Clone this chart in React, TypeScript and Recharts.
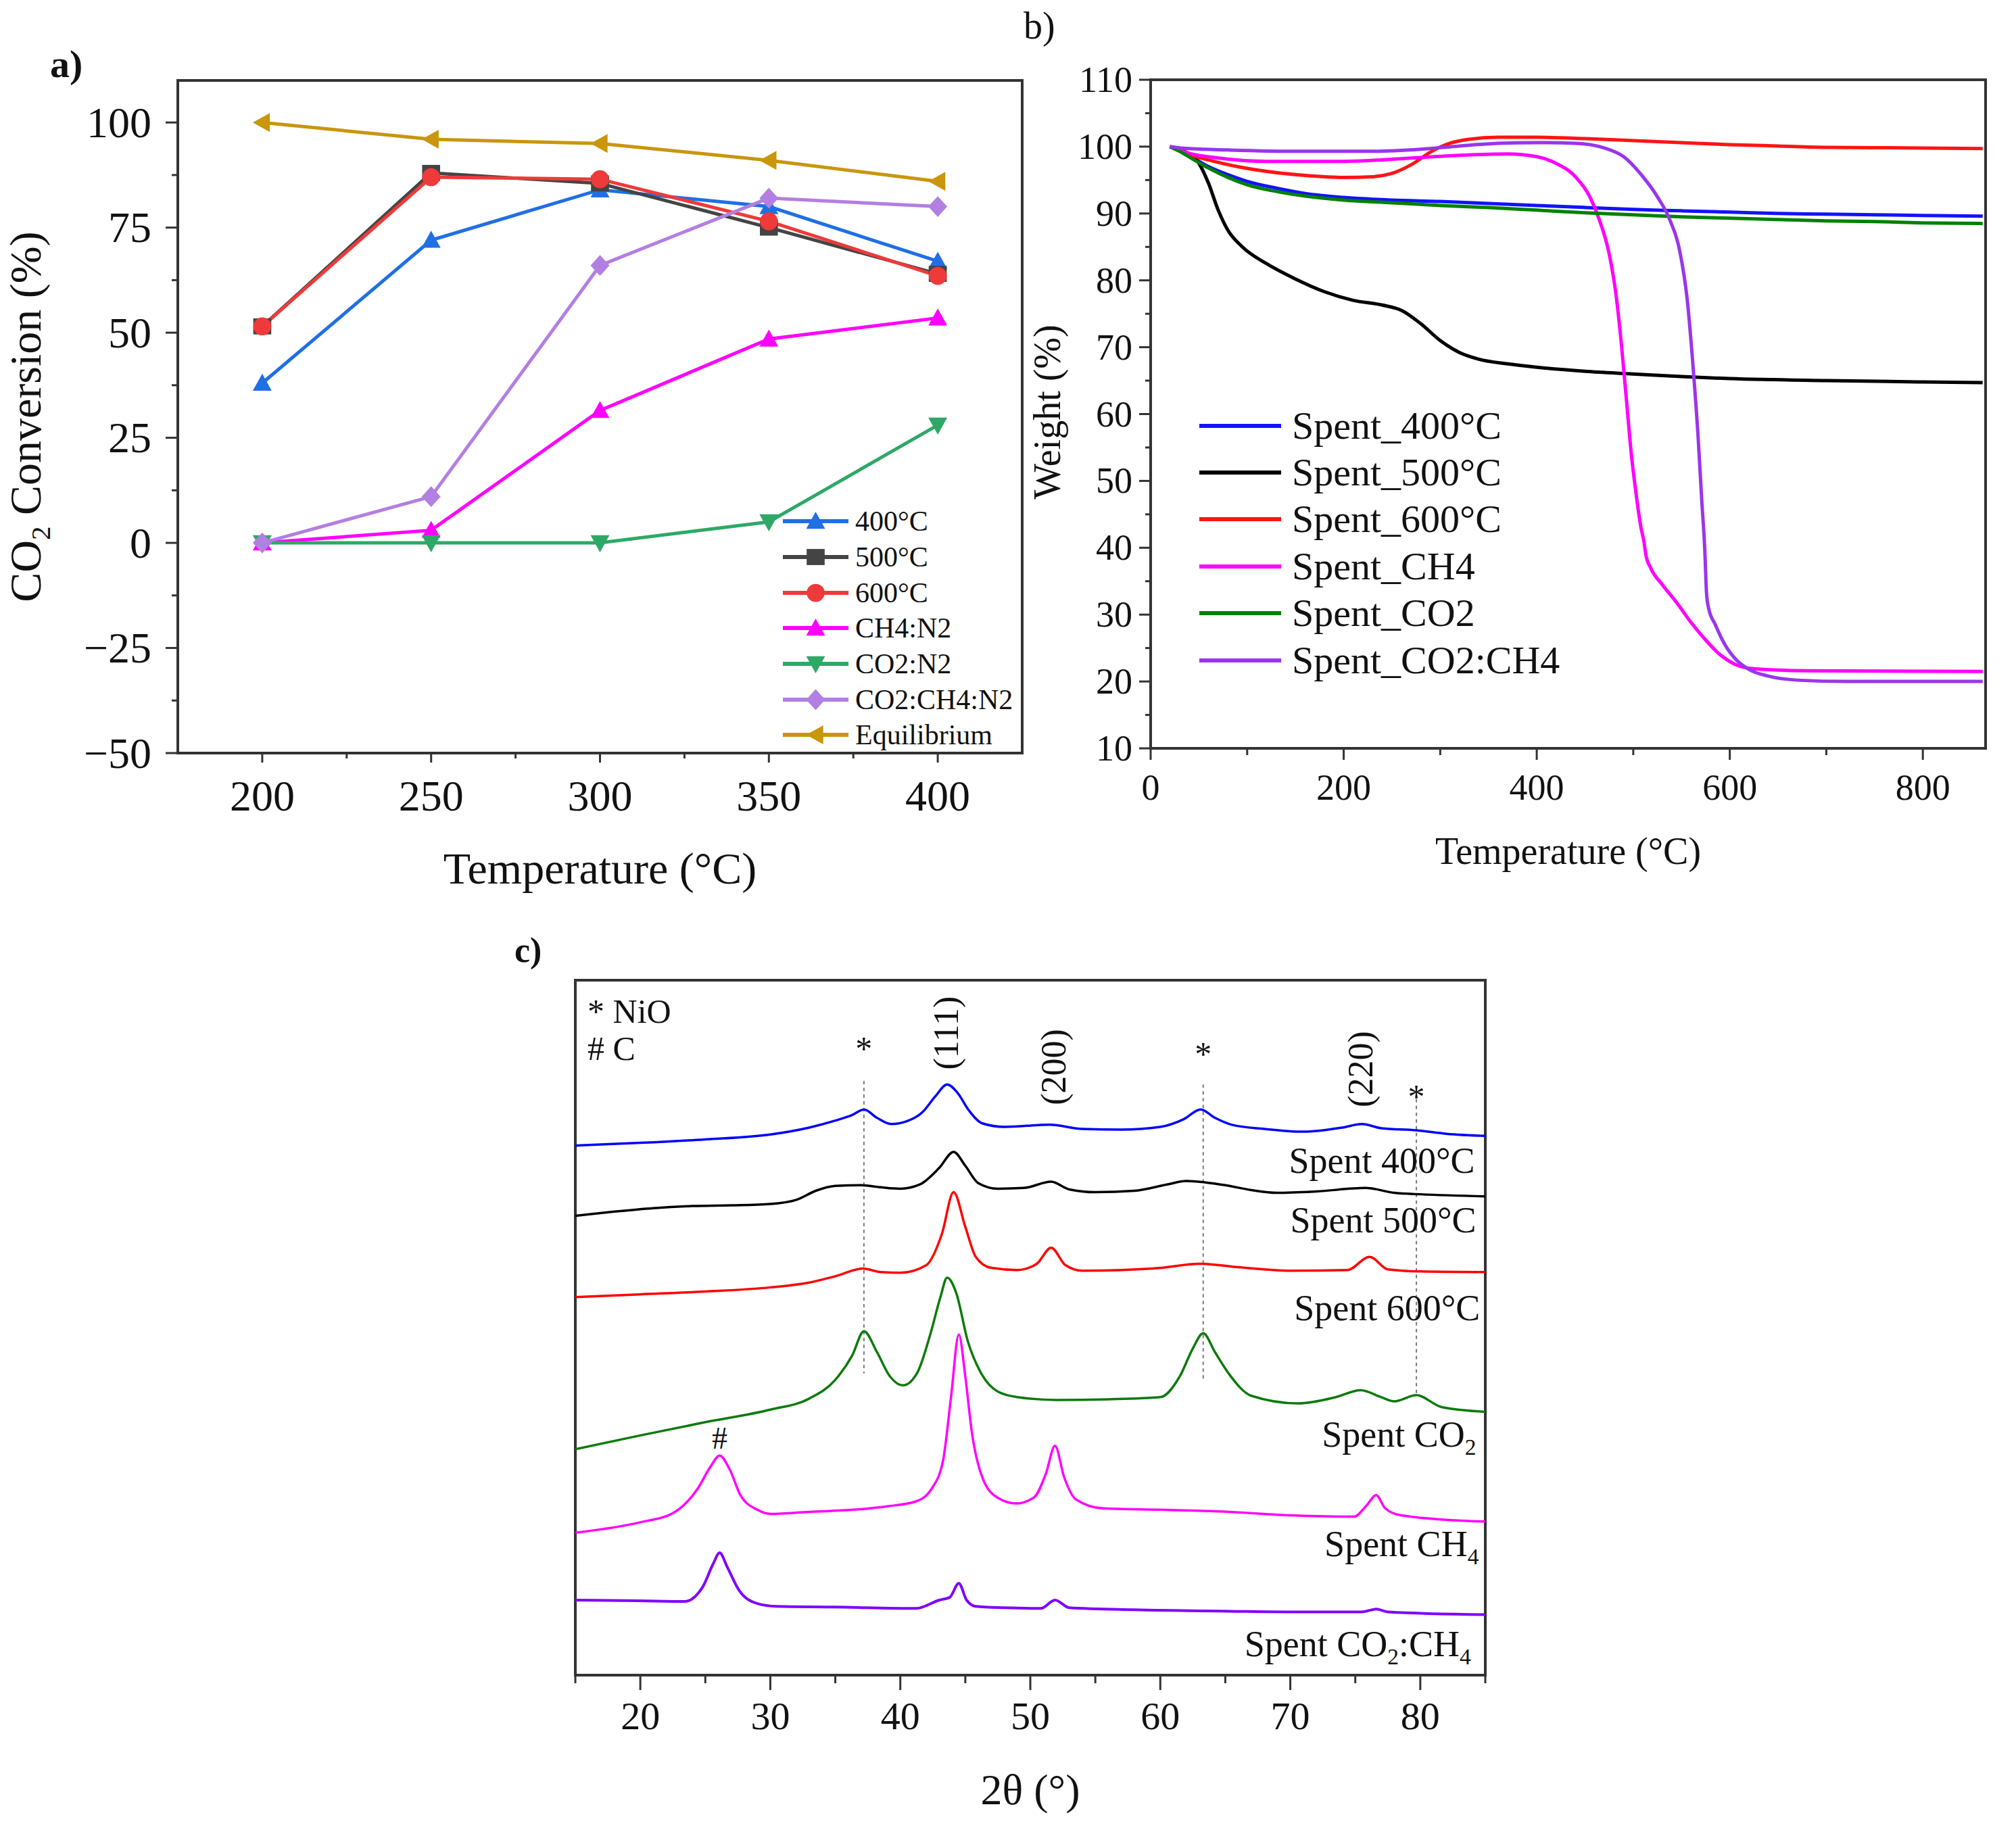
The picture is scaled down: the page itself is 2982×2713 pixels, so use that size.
import React from 'react';
import { LineChart, Line, XAxis, YAxis, ReferenceArea, ReferenceLine, ReferenceDot, Legend, Label } from 'recharts';

const SERIF = '"Liberation Serif", "Times New Roman", serif';
const AXIS = '#333333';
const INK = '#111111';

// ---------- a) CO2 conversion vs temperature ----------
const temps = [200, 250, 300, 350, 400];
const conv400 = [38, 72, 84, 80, 67];
const conv500 = [51.5, 88, 85.5, 75, 64];
const conv600 = [51.5, 87, 86.5, 76.5, 63.5];
const convCH4N2 = [0, 3, 31.5, 48.5, 53.5];
const convCO2N2 = [0, 0, 0, 5, 28];
const convMix = [0, 11, 66, 82, 80];
const convEquil = [100, 96, 95, 91, 86];
const aTicksX = [200, 225, 250, 275, 300, 325, 350, 375, 400];
const aMajorX = [200, 250, 300, 350, 400];
const aTicksY = [-50, -37.5, -25, -12.5, 0, 12.5, 25, 37.5, 50, 62.5, 75, 87.5, 100];
const aMajorY = [-50, -25, 0, 25, 50, 75, 100];

// ---------- b) TGA ----------
const tga400 = [[20, 100], [30, 99.4], [45, 98.2], [60, 97], [80, 95.8], [100, 94.8], [130, 93.8], [160, 93], [200, 92.4], [250, 92], [300, 91.8], [350, 91.5], [400, 91.2], [450, 90.9], [500, 90.6], [550, 90.4], [600, 90.2], [650, 90], [700, 89.9], [750, 89.8], [800, 89.7], [862, 89.6]];
const tga500 = [[20, 100], [35, 99.3], [50, 97.5], [60, 94.5], [70, 90.5], [80, 87.5], [95, 85], [120, 82.5], [150, 80.2], [180, 78.3], [210, 77], [240, 76.3], [260, 75.5], [280, 73.5], [300, 71], [320, 69.2], [340, 68.2], [370, 67.5], [400, 67], [450, 66.4], [500, 66], [550, 65.6], [600, 65.3], [700, 65], [800, 64.8], [862, 64.7]];
const tga600 = [[20, 100], [40, 98.8], [60, 98], [90, 97], [120, 96.3], [160, 95.7], [200, 95.4], [230, 95.5], [250, 96], [270, 97.3], [290, 99.2], [310, 100.5], [330, 101.1], [360, 101.4], [400, 101.4], [450, 101.2], [500, 100.9], [550, 100.6], [600, 100.3], [650, 100.1], [700, 99.9], [800, 99.8], [862, 99.7]];
const tgaCH4 = [[20, 100], [40, 99], [70, 98.3], [120, 97.8], [200, 97.8], [260, 98.2], [320, 98.7], [370, 98.9], [400, 98.5], [420, 97.5], [440, 95.5], [455, 92.5], [465, 89], [475, 84], [482, 78], [488, 70], [493, 62], [498, 54], [503, 48], [508, 43], [511, 41], [513, 39], [518, 37], [530, 34.5], [545, 31.8], [560, 28.8], [575, 26.2], [590, 24], [605, 22.6], [625, 21.9], [680, 21.6], [862, 21.5]];
const tgaCO2 = [[20, 100], [30, 99.3], [45, 98], [60, 96.8], [80, 95.4], [100, 94.3], [130, 93.3], [160, 92.6], [200, 92], [250, 91.6], [300, 91.2], [350, 90.9], [400, 90.5], [450, 90.1], [500, 89.8], [550, 89.5], [600, 89.3], [650, 89.1], [700, 88.9], [750, 88.8], [800, 88.6], [862, 88.5]];
const tgaMix = [[20, 100], [40, 99.7], [80, 99.5], [150, 99.3], [230, 99.3], [280, 99.6], [320, 100.1], [360, 100.5], [400, 100.6], [440, 100.5], [470, 99.8], [490, 98.5], [510, 95.5], [525, 92.5], [538, 89], [548, 84.5], [556, 77], [562, 67], [567, 57], [571, 47], [574, 40], [576, 33], [578, 31], [585, 28.5], [595, 25.5], [607, 23.2], [620, 21.8], [640, 20.8], [670, 20.2], [720, 20], [862, 20]];
const bTicksX = [0, 100, 200, 300, 400, 500, 600, 700, 800];
const bMajorX = [0, 200, 400, 600, 800];
const bTicksY = [10, 15, 20, 25, 30, 35, 40, 45, 50, 55, 60, 65, 70, 75, 80, 85, 90, 95, 100, 105, 110];
const bMajorY = [10, 20, 30, 40, 50, 60, 70, 80, 90, 100, 110];

// ---------- c) XRD (offset patterns) ----------
const xrd400 = [[15, 76.2], [20, 76.6], [25, 77.1], [30, 77.8], [33, 78.8], [35, 79.8], [36.3, 80.6], [37.2, 81.4], [38.2, 80.2], [39.3, 79.3], [40.5, 79.7], [41.7, 81], [42.7, 83.3], [43.6, 85], [44.4, 83.8], [45.3, 81.2], [46.3, 79.4], [48, 78.9], [51.5, 79.2], [54, 78.6], [57, 78.5], [60, 78.9], [61.8, 80], [63.1, 81.4], [64.2, 80.2], [65.5, 79.2], [68, 78.6], [71, 78.2], [74, 78.8], [75.5, 79.3], [77, 78.7], [79.7, 78.4], [82, 77.9], [85, 77.6]];
const xrd500 = [[15, 66.1], [18, 66.7], [21, 67.2], [24, 67.5], [27, 67.6], [30, 67.8], [32, 68.4], [33.5, 69.7], [35, 70.4], [37, 70.5], [38.5, 70.2], [40, 70], [41.5, 70.6], [43, 73], [44.1, 75.3], [45, 73.3], [46, 70.8], [47.5, 70], [49.5, 70.1], [51.6, 71], [53, 69.9], [55, 69.5], [58, 69.7], [60.5, 70.6], [62, 71.1], [63.5, 70.9], [65, 70.5], [67, 69.8], [69, 69.4], [72, 69.6], [75.8, 70.1], [78, 69.4], [80, 69.2], [85, 68.9]];
const xrd600 = [[15, 54.4], [20, 54.8], [25, 55.2], [30, 55.8], [33, 56.5], [35, 57.4], [37.1, 58.5], [38.5, 58], [40, 57.9], [42, 59], [43.2, 63.5], [44.1, 69.5], [45, 64.5], [45.8, 60.2], [47, 58.6], [49, 58.3], [50.5, 59.2], [51.6, 61.5], [52.7, 59], [54, 58.2], [57, 58.3], [60, 58.6], [63, 59.2], [66, 58.7], [70, 58.2], [74.4, 58.3], [76.1, 60.2], [77.5, 58.4], [80, 58.1], [85, 58]];
const xrdCO2 = [[15, 32.5], [20, 34.5], [25, 36.4], [30, 38.2], [33, 39.8], [35, 42.5], [36.3, 46], [37.2, 49.5], [38.2, 46.5], [39.2, 43], [40.2, 41.7], [41.3, 43.5], [42.3, 49], [43.1, 54.5], [43.6, 57.2], [44.3, 55], [45.2, 48], [46.2, 43.5], [47.5, 40.8], [49, 40], [52, 39.6], [56, 39.7], [60, 40], [61.5, 43], [62.5, 47], [63.3, 49.2], [64.2, 46.5], [65.3, 43.3], [67, 40.2], [70.6, 39.1], [73.5, 40], [75.4, 41], [77, 40], [78, 39.4], [79.7, 40.3], [81.6, 38.6], [85, 37.9]];
const xrdCH4 = [[15, 20.5], [20, 22], [22.5, 23.3], [24.4, 26.8], [25.4, 30], [26.1, 31.6], [26.9, 29.5], [27.7, 25.9], [29, 23.8], [30, 23.2], [33, 23.5], [36.4, 23.8], [39, 24.3], [41.2, 25], [42.4, 26.8], [43.3, 31], [43.9, 40], [44.5, 49], [45, 43], [45.5, 35], [46.3, 28.5], [47.5, 25.5], [48.9, 24.7], [50.3, 25.6], [51.2, 29], [51.9, 33], [52.6, 28.5], [53.5, 25.3], [55.6, 24], [60, 23.8], [65.3, 23.5], [70, 23], [74.9, 22.8], [75.9, 24.5], [76.6, 25.9], [77.3, 24], [78.5, 23], [85, 22.1]];
const xrdMix = [[15, 10.8], [20, 10.7], [23.4, 10.6], [24.8, 12.7], [25.6, 16], [26.1, 17.6], [26.7, 15.5], [27.6, 12.2], [29, 10.3], [30.5, 9.9], [35, 9.8], [41.2, 9.6], [43, 10.8], [43.8, 11.2], [44.5, 13.2], [45.1, 10.8], [45.8, 9.9], [48, 9.7], [50.8, 9.6], [51.9, 10.8], [53, 9.7], [58, 9.4], [65.3, 9.2], [70, 9.1], [75.5, 9.1], [76.6, 9.5], [77.5, 9.1], [85, 8.7]];
const cTicksX = [15, 20, 25, 30, 35, 40, 45, 50, 55, 60, 65, 70, 75, 80, 85];
const cMajorX = [20, 30, 40, 50, 60, 70, 80];
const nioGuides = [[37.2, 85.5, 43.4], [63.3, 85, 42.4], [79.7, 82.9, 40.3]];

const toPts = (arr: number[][]) => arr.map(([x, y]) => ({ x, y }));

const convSeries = [
  { key: 's400', name: '400°C', color: '#1f6fe5', shape: 'up', values: conv400 },
  { key: 's500', name: '500°C', color: '#444444', shape: 'square', values: conv500 },
  { key: 's600', name: '600°C', color: '#ee3a3a', shape: 'circle', values: conv600 },
  { key: 'ch4', name: 'CH4:N2', color: '#ff00ff', shape: 'up', values: convCH4N2 },
  { key: 'co2', name: 'CO2:N2', color: '#2ea866', shape: 'down', values: convCO2N2 },
  { key: 'mix', name: 'CO2:CH4:N2', color: '#b27fe2', shape: 'diamond', values: convMix },
  { key: 'eq', name: 'Equilibrium', color: '#c9960c', shape: 'left', values: convEquil },
];
const convData = temps.map((t, i) => {
  const row: any = { T: t };
  convSeries.forEach((s) => { row[s.key] = s.values[i]; });
  return row;
});

const tgaSeries = [
  { name: 'Spent_400°C', color: '#1212ff', pts: tga400 },
  { name: 'Spent_500°C', color: '#000000', pts: tga500 },
  { name: 'Spent_600°C', color: '#ff1414', pts: tga600 },
  { name: 'Spent_CH4', color: '#ff00ff', pts: tgaCH4 },
  { name: 'Spent_CO2', color: '#008000', pts: tgaCO2 },
  { name: 'Spent_CO2:CH4', color: '#9a35ec', pts: tgaMix },
];

const xrdSeries = [
  { name: 'Spent 400°C', color: '#0000ff', pts: xrd400, w: 3.5 },
  { name: 'Spent 500°C', color: '#000000', pts: xrd500, w: 3.5 },
  { name: 'Spent 600°C', color: '#ff0000', pts: xrd600, w: 3.5 },
  { name: 'Spent CO2', color: '#0d7a0d', pts: xrdCO2, w: 3.5 },
  { name: 'Spent CH4', color: '#ff00ff', pts: xrdCH4, w: 3.5 },
  { name: 'Spent CO2:CH4', color: '#7f00ff', pts: xrdMix, w: 4 },
];

const Marker = ({ cx, cy, shape, color, s = 14 }: any) => {
  if (cx == null || cy == null) return null;
  switch (shape) {
    case 'up':
      return <polygon points={`${cx},${cy - s} ${cx - s},${cy + s * 0.8} ${cx + s},${cy + s * 0.8}`} fill={color} />;
    case 'down':
      return <polygon points={`${cx},${cy + s} ${cx - s},${cy - s * 0.8} ${cx + s},${cy - s * 0.8}`} fill={color} />;
    case 'left':
      return <polygon points={`${cx - s},${cy} ${cx + s * 0.8},${cy - s} ${cx + s * 0.8},${cy + s}`} fill={color} />;
    case 'diamond':
      return <polygon points={`${cx},${cy - s * 1.1} ${cx + s},${cy} ${cx},${cy + s * 1.1} ${cx - s},${cy}`} fill={color} />;
    case 'square':
      return <rect x={cx - s * 0.95} y={cy - s * 0.85} width={s * 1.9} height={s * 1.7} fill={color} />;
    default:
      return <circle cx={cx} cy={cy} r={s * 0.95} fill={color} />;
  }
};

// ticks with major / minor marks
const AxisTick = (props: any) => {
  const { x, y, payload, orient, majors, len, minorLen, fs, gap } = props;
  const v = payload.value;
  const major = majors.includes(v);
  const l = major ? len : minorLen;
  const label = String(v).replace('-', '\u2212');
  if (orient === 'left') {
    return (
      <g>
        <line x1={x} x2={x - l} y1={y} y2={y} stroke={AXIS} strokeWidth={3} />
        {major && (
          <text x={x - gap} y={y} textAnchor="end" dominantBaseline="central" fontSize={fs} fontFamily={SERIF} fill={INK}>
            {label}
          </text>
        )}
      </g>
    );
  }
  return (
    <g>
      <line x1={x} x2={x} y1={y} y2={y + l} stroke={AXIS} strokeWidth={3} />
      {major && (
        <text x={x} y={y + gap} textAnchor="middle" fontSize={fs} fontFamily={SERIF} fill={INK}>
          {label}
        </text>
      )}
    </g>
  );
};

const ConvLegend = () => (
  <div style={{ fontFamily: SERIF, fontSize: 42, color: INK }}>
    {convSeries.map((s) => (
      <div key={s.key} style={{ display: 'flex', alignItems: 'center', height: 52.7 }}>
        <svg width={97} height={36}>
          <line x1={0} x2={97} y1={18} y2={18} stroke={s.color} strokeWidth={6} />
          <Marker cx={48.5} cy={18} shape={s.shape} color={s.color} s={14} />
        </svg>
        <span style={{ marginLeft: 10, lineHeight: 1 }}>{s.name}</span>
      </div>
    ))}
  </div>
);

const TgaLegend = () => (
  <div style={{ fontFamily: SERIF, fontSize: 58, color: INK }}>
    {tgaSeries.map((s) => (
      <div key={s.name} style={{ display: 'flex', alignItems: 'center', height: 69.4 }}>
        <svg width={121} height={20}>
          <line x1={0} x2={121} y1={10} y2={10} stroke={s.color} strokeWidth={6} />
        </svg>
        <span style={{ marginLeft: 16, lineHeight: 1 }}>{s.name}</span>
      </div>
    ))}
  </div>
);

const sub = (fs: number) => ({ fontSize: fs * 0.62 });

const XTitle = ({ text, off, fs }: any) => (p: any) => {
  const vb = p.viewBox || { x: 0, y: 0, width: 0, height: 0 };
  return (
    <text x={vb.x + vb.width / 2} y={vb.y + off} textAnchor="middle" fontSize={fs} fontFamily={SERIF} fill={INK}>
      {text}
    </text>
  );
};

const Letter = ({ children, left, top, size, bold }: any) => (
  <div style={{ position: 'absolute', left, top, fontFamily: SERIF, fontSize: size, fontWeight: bold ? 'bold' : 'normal', lineHeight: 1, color: INK }}>
    {children}
  </div>
);

const XrdNote = ({ x, y, children, fs = 52, anchor = 'middle', rotate = false, baseline = 'auto' }: any) => (
  <ReferenceDot
    x={x}
    y={y}
    r={0}
    shape={(p: any) => (
      <text
        x={p.cx}
        y={p.cy}
        textAnchor={anchor}
        dominantBaseline={baseline}
        transform={rotate ? `rotate(-90, ${p.cx}, ${p.cy})` : undefined}
        fontSize={fs}
        fontFamily={SERIF}
        fill={INK}
      >
        {children}
      </text>
    )}
  />
);

const PanelA = () => (
  <LineChart width={1560} height={1340} data={convData} margin={{ top: 119, right: 48, left: 0, bottom: 0 }}>
    <ReferenceArea x1={175} x2={425} y1={-50} y2={110} fill="none" stroke={AXIS} strokeWidth={4} />
    <XAxis
      dataKey="T"
      type="number"
      domain={[175, 425]}
      ticks={aTicksX}
      interval={0}
      allowDataOverflow
      height={226}
      axisLine={false}
      tickLine={false}
      tickSize={0}
      tickMargin={0}
      tick={(p: any) => <AxisTick {...p} orient="bottom" majors={aMajorX} len={14} minorLen={8} fs={64} gap={85} />}
    >
      <Label content={XTitle({ text: 'Temperature (°C)', off: 193, fs: 66 })} />
    </XAxis>
    <YAxis
      type="number"
      domain={[-50, 110]}
      ticks={aTicksY}
      interval={0}
      allowDataOverflow
      width={263}
      axisLine={false}
      tickLine={false}
      tickSize={0}
      tickMargin={0}
      tick={(p: any) => <AxisTick {...p} orient="left" majors={aMajorY} len={18} minorLen={9} fs={64} gap={39} />}
    >
      <Label
        content={(p: any) => {
          const vb = p.viewBox || { x: 0, y: 119, width: 263, height: 995 };
          const cx = vb.x + 60;
          const cy = vb.y + vb.height / 2;
          return (
            <text x={cx} y={cy} textAnchor="middle" transform={`rotate(-90, ${cx}, ${cy})`} fontSize={66} fontFamily={SERIF} fill={INK}>
              CO<tspan dy={14} style={sub(66)}>2</tspan>
              <tspan dy={-14}> Conversion (%)</tspan>
            </text>
          );
        }}
      />
    </YAxis>
    {convSeries.map((s) => (
      <Line
        key={s.key}
        dataKey={s.key}
        name={s.name}
        type="linear"
        stroke={s.color}
        strokeWidth={5}
        isAnimationActive={false}
        dot={(p: any) => <Marker key={`${s.key}-${p.index}`} cx={p.cx} cy={p.cy} shape={s.shape} color={s.color} />}
        activeDot={false}
      />
    ))}
    <Legend
      layout="vertical"
      align="center"
      verticalAlign="middle"
      content={() => <ConvLegend />}
      wrapperStyle={{ left: 1158, top: 745, width: 420 }}
    />
  </LineChart>
);

const PanelB = () => (
  <LineChart width={1482} height={1340} margin={{ top: 118, right: 45, left: 0, bottom: 0 }}>
    <ReferenceArea x1={0} x2={865} y1={10} y2={110} fill="none" stroke={AXIS} strokeWidth={4} />
    <XAxis
      dataKey="x"
      type="number"
      domain={[0, 865]}
      ticks={bTicksX}
      interval={0}
      allowDataOverflow
      height={233}
      axisLine={false}
      tickLine={false}
      tickSize={0}
      tickMargin={0}
      tick={(p: any) => <AxisTick {...p} orient="bottom" majors={bMajorX} len={17} minorLen={10} fs={54} gap={76} />}
    >
      <Label content={XTitle({ text: 'Temperature (°C)', off: 171, fs: 56 })} />
    </XAxis>
    <YAxis
      dataKey="y"
      type="number"
      domain={[10, 110]}
      ticks={bTicksY}
      interval={0}
      allowDataOverflow
      width={202}
      axisLine={false}
      tickLine={false}
      tickSize={0}
      tickMargin={0}
      tick={(p: any) => <AxisTick {...p} orient="left" majors={bMajorY} len={17} minorLen={8} fs={54} gap={27} />}
    >
      <Label
        content={(p: any) => {
          const vb = p.viewBox || { x: 0, y: 118, width: 202, height: 989 };
          const cx = vb.x + 68;
          const cy = vb.y + vb.height / 2 - 3;
          return (
            <text x={cx} y={cy} textAnchor="middle" transform={`rotate(-90, ${cx}, ${cy})`} fontSize={56} fontFamily={SERIF} fill={INK}>
              Weight (%)
            </text>
          );
        }}
      />
    </YAxis>
    {tgaSeries.map((s) => (
      <Line
        key={s.name}
        data={toPts(s.pts)}
        dataKey="y"
        name={s.name}
        type="monotone"
        stroke={s.color}
        strokeWidth={5}
        dot={false}
        activeDot={false}
        isAnimationActive={false}
      />
    ))}
    <Legend
      layout="vertical"
      align="center"
      verticalAlign="middle"
      content={() => <TgaLegend />}
      wrapperStyle={{ left: 274, top: 595, width: 600 }}
    />
  </LineChart>
);

const PanelC = () => (
  <LineChart width={1560} height={1373} margin={{ top: 110, right: 63, left: 151, bottom: 0 }}>
    <ReferenceArea x1={15} x2={85} y1={0} y2={100} fill="none" stroke={AXIS} strokeWidth={4} />
    <XAxis
      dataKey="x"
      type="number"
      domain={[15, 85]}
      ticks={cTicksX}
      interval={0}
      allowDataOverflow
      height={235}
      axisLine={false}
      tickLine={false}
      tickSize={0}
      tickMargin={0}
      tick={(p: any) => <AxisTick {...p} orient="bottom" majors={cMajorX} len={22} minorLen={12} fs={58} gap={80} />}
    >
      <Label content={XTitle({ text: '2θ (°)', off: 191, fs: 64 })} />
    </XAxis>
    <YAxis dataKey="y" type="number" domain={[0, 100]} allowDataOverflow hide />
    {nioGuides.map(([x, y1, y2]) => (
      <ReferenceLine
        key={x}
        segment={[{ x, y: y1 }, { x, y: y2 }]}
        stroke="#7a7a7a"
        strokeWidth={2}
        strokeDasharray="5 5"
      />
    ))}
    {xrdSeries.map((s) => (
      <Line
        key={s.name}
        data={toPts(s.pts)}
        dataKey="y"
        name={s.name}
        type="monotone"
        stroke={s.color}
        strokeWidth={s.w}
        dot={false}
        activeDot={false}
        isAnimationActive={false}
      />
    ))}
    <XrdNote x={15.94} y={93.9} anchor="start" fs={50}>* NiO</XrdNote>
    <XrdNote x={15.94} y={88.5} anchor="start" fs={50}># C</XrdNote>
    <XrdNote x={37.2} y={88.5} fs={50}>*</XrdNote>
    <XrdNote x={63.3} y={87.7} fs={50}>*</XrdNote>
    <XrdNote x={79.7} y={81.6} fs={50}>*</XrdNote>
    <XrdNote x={26.1} y={34.1} fs={46} baseline="central">#</XrdNote>
    <XrdNote x={43.5} y={92.4} rotate baseline="central">(111)</XrdNote>
    <XrdNote x={51.8} y={87.5} rotate baseline="central">(200)</XrdNote>
    <XrdNote x={75.4} y={87.2} rotate baseline="central">(220)</XrdNote>
    <XrdNote x={84.2} y={72.3} anchor="end" fs={54}>Spent 400°C</XrdNote>
    <XrdNote x={84.3} y={63.7} anchor="end" fs={54}>Spent 500°C</XrdNote>
    <XrdNote x={84.6} y={51.1} anchor="end" fs={54}>Spent 600°C</XrdNote>
    <XrdNote x={84.3} y={32.9} anchor="end" fs={54}>
      Spent CO<tspan dy={12} style={sub(54)}>2</tspan>
    </XrdNote>
    <XrdNote x={84.5} y={17.1} anchor="end" fs={54}>
      Spent CH<tspan dy={12} style={sub(54)}>4</tspan>
    </XrdNote>
    <XrdNote x={83.9} y={2.7} anchor="end" fs={54}>
      Spent CO<tspan dy={12} style={sub(54)}>2</tspan>
      <tspan dy={-12}>:CH</tspan>
      <tspan dy={12} style={sub(54)}>4</tspan>
    </XrdNote>
  </LineChart>
);

const App = () => (
  <div style={{ position: 'absolute', left: 0, top: 0, width: 2982, height: 2713, background: '#ffffff', overflow: 'hidden' }}>
    <div style={{ position: 'absolute', left: 0, top: 0 }}>
      <PanelA />
    </div>
    <div style={{ position: 'absolute', left: 1500, top: 0 }}>
      <PanelB />
    </div>
    <div style={{ position: 'absolute', left: 700, top: 1340 }}>
      <PanelC />
    </div>
    <Letter left={74} top={66} size={58} bold>a)</Letter>
    <Letter left={1514} top={10} size={56}>b)</Letter>
    <Letter left={761} top={1380} size={52} bold>c)</Letter>
  </div>
);

export default App;
